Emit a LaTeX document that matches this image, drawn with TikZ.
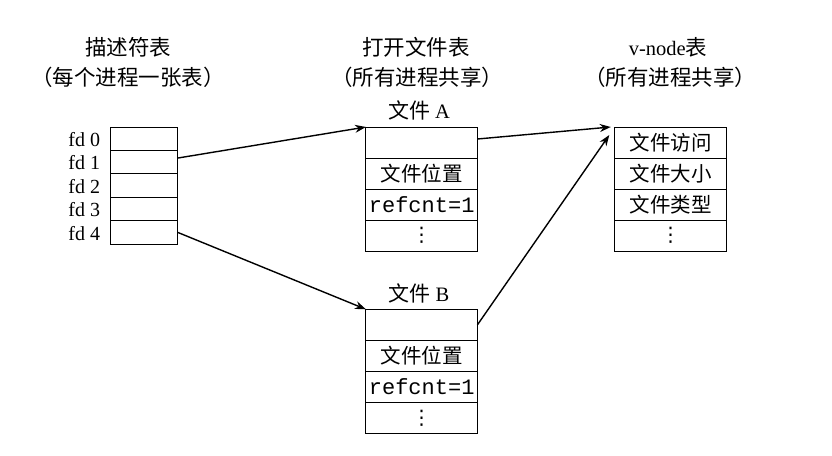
\documentclass[tikz,border=0pt]{standalone}
\usepackage{fontspec}
\setmainfont{Liberation Serif}
\setmonofont{Liberation Mono}
\newfontfamily\cjk{Noto Sans CJK SC}
\newfontfamily\dejavu{DejaVu Sans}
\usetikzlibrary{arrows.meta}
\begin{document}
\begin{tikzpicture}[x=1pt,y=-1pt,
  every node/.style={inner sep=0pt,outer sep=0pt},
  title/.style={font=\fontsize{21.5}{24}\selectfont\cjk},
  lbl/.style={font=\fontsize{20}{22}\selectfont, anchor=east},
  drow/.style={draw,line width=1pt,minimum width=67pt,minimum height=23.4pt},
  frow/.style={draw,line width=1pt,minimum width=111.5pt,minimum height=31pt,font=\fontsize{20.5}{22}\selectfont\cjk},
  vrow/.style={draw,line width=1pt,minimum width=112.4pt,minimum height=31pt,font=\fontsize{20.5}{22}\selectfont\cjk},
  mono/.style={font=\fontsize{22}{24}\selectfont\ttfamily},
  dots/.style={font=\fontsize{20}{20}\selectfont\dejavu},
  conn/.style={line width=1.4pt,-{Stealth[length=11pt,width=8pt]}}
]
\useasboundingbox[fill=white] (0,0) rectangle (832,455);

% titles
\node[title] (t1) at (128,47) {描述符表};
\node[title] (t1b) at (128,77) {（每个进程一张表）};
\node[title] (t2) at (416,47) {打开文件表};
\node[title] (t2b) at (417,77) {（所有进程共享）};
\node[font=\fontsize{20.5}{22}\selectfont] (t3) at (668,47) {v-node{\cjk\fontsize{21.5}{24}\selectfont 表}};
\node[title] (t3b) at (670,77) {（所有进程共享）};

% descriptor table
\node[drow] (d0) at (144,138.7) {};
\node[drow] (d1) at (144,162.1) {};
\node[drow] (d2) at (144,185.5) {};
\node[drow] (d3) at (144,208.9) {};
\node[drow] (d4) at (144,232.3) {};
\node[lbl] (l0) at (100,139.5) {fd 0};
\node[lbl] (l1) at (100,162.9) {fd 1};
\node[lbl] (l2) at (100,186.3) {fd 2};
\node[lbl] (l3) at (100,209.7) {fd 3};
\node[lbl] (l4) at (100,233.1) {fd 4};

% file A
\node[font=\fontsize{20.5}{22}\selectfont] (ta) at (419,110) {{\cjk\fontsize{21}{22}\selectfont 文件} A};
\node[frow] (a1) at (421.7,142.5) {};
\node[frow] (a2) at (421.7,173.5) {文件位置};
\node[frow,mono] (a3) at (421.7,204.5) {refcnt=1};
\node[frow,dots] (a4) at (421.7,235.5) {⋮};

% file B
\node[font=\fontsize{20.5}{22}\selectfont] (tb) at (419,293) {{\cjk\fontsize{21}{22}\selectfont 文件} B};
\node[frow] (b1) at (421.7,324.8) {};
\node[frow] (b2) at (421.7,355.8) {文件位置};
\node[frow,mono] (b3) at (421.7,386.8) {refcnt=1};
\node[frow,dots] (b4) at (421.7,417.8) {⋮};

% v-node table
\node[vrow] (v1) at (670.5,142.5) {文件访问};
\node[vrow] (v2) at (670.5,173.5) {文件大小};
\node[vrow] (v3) at (670.5,204.5) {文件类型};
\node[vrow,dots] (v4) at (670.5,235.5) {⋮};

% connectors
\draw[conn] ([yshift=4pt]d1.east) -- (a1.north west);
\draw[conn] (d4.east) -- (b1.north west);
\draw[conn] ([yshift=3.5pt]a1.east) -- ([xshift=-3.5pt]v1.north west);
\draw[conn] (b1.east) -- ([xshift=-5pt,yshift=-8pt]v1.north west);
\end{tikzpicture}
\end{document}
